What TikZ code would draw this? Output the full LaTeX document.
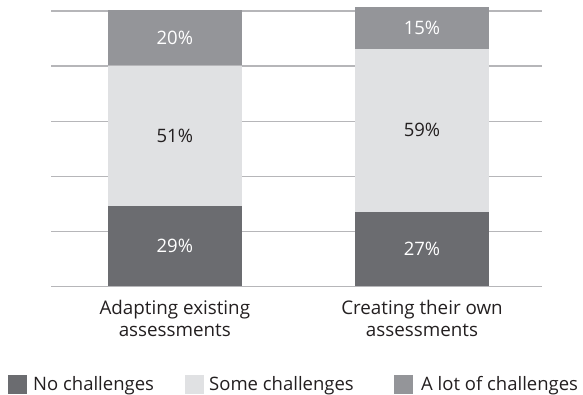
\documentclass[tikz,border=0pt]{standalone}
\usepackage{fontspec}
\setmainfont{Open Sans}
\definecolor{darkseg}{RGB}{107,108,112}
\definecolor{lightseg}{RGB}{224,225,227}
\definecolor{midseg}{RGB}{148,149,153}
\definecolor{gridc}{RGB}{182,182,185}
\definecolor{txt}{RGB}{35,31,32}
\tikzset{
  gridline/.style={draw=gridc, line width=1.4pt},
  seg/.style={draw=none, inner sep=0pt, minimum width=134pt, anchor=south, font=\fontsize{18.5}{20}\selectfont},
  noneseg/.style={seg, fill=darkseg, text=white},
  someseg/.style={seg, fill=lightseg, text=txt},
  lotseg/.style={seg, fill=midseg, text=white},
  catlabel/.style={align=center, inner sep=0pt, anchor=north, text=txt, font=\fontsize{18.8}{22}\selectfont},
  legbox/.style={inner sep=0pt, minimum size=19pt, anchor=north west},
  legtext/.style={inner sep=0pt, anchor=base west, text=txt, font=\fontsize{18.5}{20}\selectfont}
}
\begin{document}
\begin{tikzpicture}[x=1pt,y=-1pt]
\useasboundingbox (0,0) rectangle (583,394);
% grid
\foreach \yy/\nm in {11/g0,66.1/g1,121.2/g2,176.3/g3,231.4/g4,286.5/g5}{
  \coordinate (\nm l) at (51,\yy);
  \coordinate (\nm r) at (542,\yy);
  \draw[gridline] (\nm l) -- (\nm r);
}
% bar 1
\coordinate (b1) at (174.8,286.5);
\node[noneseg, minimum height=79.9pt] (a1) at (b1) {29\%};
\node[someseg, minimum height=140.5pt] (a2) at (a1.north) {51\%};
\node[lotseg, minimum height=55.1pt] (a3) at (a2.north) {20\%};
% bar 2
\coordinate (b2) at (422,286.5);
\node[noneseg, minimum height=74.4pt] (c1) at (b2) {27\%};
\node[someseg, minimum height=162.5pt] (c2) at (c1.north) {59\%};
\node[lotseg, minimum height=41.3pt] (c3) at (c2.north) {15\%};
% category labels
\node[catlabel] (lab1) at (174.8,300) {Adapting existing\\assessments};
\node[catlabel] (lab2) at (422,300) {Creating their own\\assessments};
% legend
\node[legbox, fill=darkseg] (k1) at (8,375) {};
\node[legtext] (t1) at (33,390) {No challenges};
\node[legbox, fill=lightseg] (k2) at (185,375) {};
\node[legtext] (t2) at (209,390) {Some challenges};
\node[legbox, fill=midseg] (k3) at (394,375) {};
\node[legtext] (t3) at (421,390) {A lot of challenges};
\end{tikzpicture}
\end{document}
